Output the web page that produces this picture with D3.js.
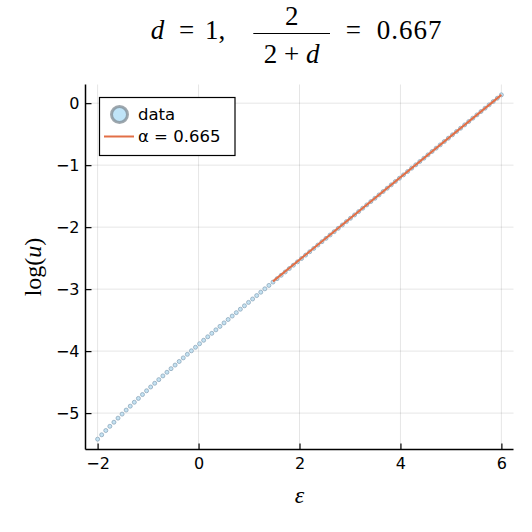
<!DOCTYPE html>
<html>
<head>
<meta charset="utf-8">
<script src="https://cdn.jsdelivr.net/npm/d3@7"></script>
<style>
  html, body { margin: 0; padding: 0; background: #fff; }
  svg { display: block; }
</style>
</head>
<body>
<svg id="chart" width="532" height="532"></svg>
<script>
// ---- data ----
const epsilon = [-2, -1.9192, -1.8384, -1.7576, -1.6768, -1.596, -1.5152, -1.4343, -1.3535, -1.2727,
  -1.1919, -1.1111, -1.0303, -0.9495, -0.8687, -0.7879, -0.7071, -0.6263, -0.5455, -0.4646,
  -0.3838, -0.303, -0.2222, -0.1414, -0.0606, 0.0202, 0.101, 0.1818, 0.2626, 0.3434,
  0.4242, 0.5051, 0.5859, 0.6667, 0.7475, 0.8283, 0.9091, 0.9899, 1.0707, 1.1515,
  1.2323, 1.3131, 1.3939, 1.4747, 1.5556, 1.6364, 1.7172, 1.798, 1.8788, 1.9596,
  2.0404, 2.1212, 2.202, 2.2828, 2.3636, 2.4444, 2.5253, 2.6061, 2.6869, 2.7677,
  2.8485, 2.9293, 3.0101, 3.0909, 3.1717, 3.2525, 3.3333, 3.4141, 3.4949, 3.5758,
  3.6566, 3.7374, 3.8182, 3.899, 3.9798, 4.0606, 4.1414, 4.2222, 4.303, 4.3838,
  4.4646, 4.5455, 4.6263, 4.7071, 4.7879, 4.8687, 4.9495, 5.0303, 5.1111, 5.1919,
  5.2727, 5.3535, 5.4343, 5.5152, 5.596, 5.6768, 5.7576, 5.8384, 5.9192, 6];
const logU = [-5.420, -5.350, -5.281, -5.213, -5.147, -5.081, -5.016, -4.951, -4.888, -4.825,
  -4.763, -4.701, -4.640, -4.579, -4.519, -4.460, -4.400, -4.341, -4.283, -4.225,
  -4.167, -4.109, -4.052, -3.995, -3.938, -3.881, -3.825, -3.769, -3.713, -3.657,
  -3.601, -3.545, -3.490, -3.434, -3.379, -3.324, -3.269, -3.214, -3.159, -3.104,
  -3.050, -2.995, -2.940, -2.886, -2.831, -2.777, -2.723, -2.668, -2.614, -2.560,
  -2.506, -2.451, -2.397, -2.343, -2.289, -2.235, -2.181, -2.127, -2.073, -2.019,
  -1.965, -1.911, -1.857, -1.803, -1.749, -1.695, -1.641, -1.587, -1.534, -1.480,
  -1.426, -1.372, -1.318, -1.264, -1.211, -1.157, -1.103, -1.049, -0.995, -0.941,
  -0.888, -0.834, -0.780, -0.726, -0.673, -0.619, -0.565, -0.511, -0.457, -0.404,
  -0.350, -0.296, -0.242, -0.189, -0.135, -0.081, -0.027, 0.026, 0.080, 0.134];
const fitEps = [1.4747, 6];
const fitLogU = [-2.875, 0.134];
const xTicks = [-2, 0, 2, 4, 6];
const xTickLabels = ["\u22122", "0", "2", "4", "6"];
const yTicks = [0, -1, -2, -3, -4, -5];
const yTickLabels = ["0", "\u22121", "\u22122", "\u22123", "\u22124", "\u22125"];
const legendLabels = ["data", "\u03b1 = 0.665"];

// ---- layout ----
const svg = d3.select("#chart");
const L = 85.5, R = 513.5, T = 84.5, B = 449.5;
const x = d3.scaleLinear().domain([-2.24, 6.24]).range([L, R]);
const y = d3.scaleLinear().domain([-5.587, 0.301]).range([B, T]);
const tickFont = "'DejaVu Sans', sans-serif";
const mathFont = "'Liberation Serif', 'Times New Roman', serif";

// grid
const grid = svg.append("g");
grid.selectAll("line.gx").data(xTicks).join("line")
  .attr("x1", d => x(d)).attr("x2", d => x(d)).attr("y1", T).attr("y2", B)
  .attr("stroke", "#000").attr("stroke-opacity", 0.1).attr("stroke-width", 1);
grid.selectAll("line.gy").data(yTicks).join("line")
  .attr("y1", d => y(d)).attr("y2", d => y(d)).attr("x1", L).attr("x2", R)
  .attr("stroke", "#000").attr("stroke-opacity", 0.1).attr("stroke-width", 1);

// axes
const xAxis = d3.axisBottom(x).tickValues(xTicks).tickSizeInner(-6).tickSizeOuter(0)
  .tickPadding(8).tickFormat((d, i) => xTickLabels[i]);
const gx = svg.append("g").attr("transform", `translate(0,${B})`).call(xAxis);
const yAxis = d3.axisLeft(y).tickValues(yTicks).tickSizeInner(-6).tickSizeOuter(0)
  .tickPadding(6).tickFormat((d, i) => yTickLabels[i]);
const gy = svg.append("g").attr("transform", `translate(${L},0)`).call(yAxis);
[gx, gy].forEach(g => {
  g.select(".domain").attr("stroke", "#000").attr("stroke-width", 1.5);
  g.selectAll(".tick line").attr("stroke", "#000").attr("stroke-width", 1.2);
  g.selectAll(".tick text").attr("font-family", tickFont).attr("font-size", 16).attr("fill", "#000");
});
gx.select(".domain").attr("d", `M${L},0H${R}`);
gy.select(".domain").attr("d", `M0,${T}V${B}`);

// data points
const pts = epsilon.map((e, i) => ({ e, v: logU[i] }));
svg.append("g").selectAll("circle").data(pts).join("circle")
  .attr("cx", d => x(d.e)).attr("cy", d => y(d.v)).attr("r", 2)
  .attr("fill", "#c4e2f2").attr("stroke", "#8aa4b8").attr("stroke-opacity", 0.75)
  .attr("stroke-width", 1);

// fit line
const fit = fitEps.map((e, i) => ({ e, v: fitLogU[i] }));
svg.append("path").datum(fit)
  .attr("d", d3.line().x(d => x(d.e)).y(d => y(d.v)))
  .attr("fill", "none").attr("stroke", "#e26f46").attr("stroke-width", 2);

// legend
const lg = svg.append("g");
lg.append("rect").attr("x", 99.5).attr("y", 97.5).attr("width", 135.5).attr("height", 58)
  .attr("fill", "#fff").attr("stroke", "#000").attr("stroke-width", 1.2);
lg.append("circle").attr("cx", 119.5).attr("cy", 114.5).attr("r", 8)
  .attr("fill", "#bfe4f8").attr("stroke", "#7f8a92").attr("stroke-opacity", 0.75).attr("stroke-width", 3);
lg.append("line").attr("x1", 104).attr("x2", 134).attr("y1", 136.5).attr("y2", 136.5)
  .attr("stroke", "#e26f46").attr("stroke-width", 2);
lg.selectAll("text").data(legendLabels).join("text")
  .attr("x", 138).attr("y", (d, i) => 114.5 + i * 22).attr("dy", "0.35em")
  .attr("font-family", tickFont).attr("font-size", 16.5).attr("fill", "#000")
  .text(d => d);

// axis labels
svg.append("text").attr("x", (L + R) / 2).attr("y", 495).attr("dy", "0.35em")
  .attr("text-anchor", "middle").attr("font-family", mathFont).attr("font-style", "italic")
  .attr("font-size", 24).text("\u03b5");
const yl = svg.append("text").attr("transform", `translate(34,${(T + B) / 2}) rotate(-90)`)
  .attr("text-anchor", "middle").attr("dy", "0.3em")
  .attr("font-family", mathFont).attr("font-size", 24);
yl.append("tspan").text("log(");
yl.append("tspan").attr("font-style", "italic").text("u");
yl.append("tspan").text(")");

// title
const tg = svg.append("g").attr("font-family", mathFont).attr("font-size", 27).attr("fill", "#000");
tg.append("text").attr("x", 157.5).attr("y", 39).attr("text-anchor", "middle").attr("font-style", "italic").text("d");
tg.append("text").attr("x", 186.7).attr("y", 39).attr("text-anchor", "middle").text("=");
tg.append("text").attr("x", 205).attr("y", 39).text("1,");
tg.append("text").attr("x", 291.7).attr("y", 24.5).attr("text-anchor", "middle").text("2");
tg.append("line").attr("x1", 253.3).attr("x2", 330).attr("y1", 33.5).attr("y2", 33.5)
  .attr("stroke", "#000").attr("stroke-width", 1.2);
const den = tg.append("text").attr("x", 291.7).attr("y", 62.5).attr("text-anchor", "middle");
den.append("tspan").text("2 + ");
den.append("tspan").attr("font-style", "italic").text("d");
tg.append("text").attr("x", 353.3).attr("y", 39).attr("text-anchor", "middle").text("=");
tg.append("text").attr("x", 376.7).attr("y", 39).attr("letter-spacing", 1).text("0.667");
</script>
</body>
</html>
